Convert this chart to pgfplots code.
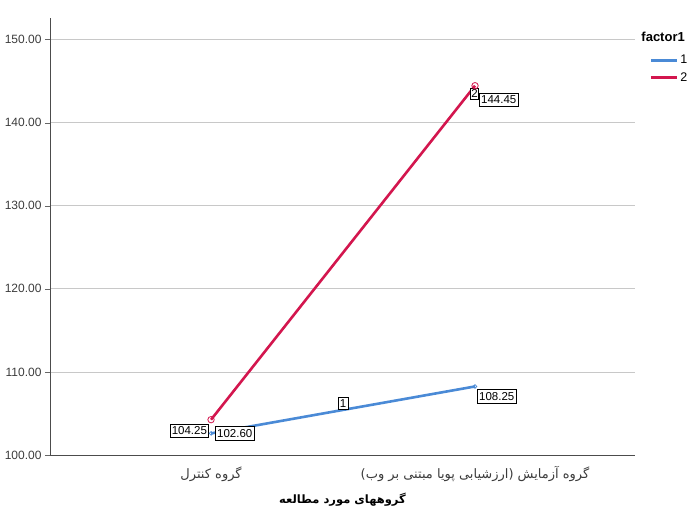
\documentclass[border=0pt]{standalone}
\usepackage{fontspec}
\setmainfont{Liberation Sans}
\newfontfamily\arabicfont[Script=Arabic]{DejaVu Sans}
\TeXXeTstate=1
\usepackage{pgfplots}
\pgfplotsset{compat=1.18}
\definecolor{ser1}{RGB}{74,138,214}
\definecolor{ser2}{RGB}{211,22,78}
\definecolor{gridc}{RGB}{200,200,200}
\definecolor{txt}{RGB}{60,60,60}
\tikzset{dlab/.style={draw=black, fill=white, text=black, inner xsep=1.8pt, inner ysep=2.8pt, font=\fontsize{11.5}{13}\selectfont, line width=0.6pt}}
\begin{document}
\begin{tikzpicture}[x=1pt,y=1pt]
\path[use as bounding box] (0,0) rectangle (697,516);
\begin{axis}[
  at={(50pt,61pt)}, anchor=south west,
  scale only axis, width=585pt, height=437pt,
  xmin=-0.61, xmax=1.606, ymin=100, ymax=152.6,
  axis lines=left, axis line style={-, draw=black!70, line width=0.8pt},
  xtick={0,1},
  xticklabels={{\arabicfont\beginR گروه کنترل\endR},{\arabicfont\beginR گروه آزمایش (ارزشیابی پویا مبتنی بر وب)\endR}},
  x tick label style={font=\fontsize{13}{15}\selectfont, text=txt, yshift=-3pt},
  major x tick style={draw=none},
  ytick={100,110,120,130,140,150},
  y tick label style={font=\fontsize{12}{14}\selectfont, text=txt},
  yticklabel style={/pgf/number format/fixed, /pgf/number format/fixed zerofill, /pgf/number format/precision=2, /pgf/number format/assume math mode=true},
  tick align=outside, major tick length=5pt, ytick style={draw=black!60},
  ymajorgrids, grid style={draw=gridc, line width=0.7pt},
  xlabel={\arabicfont\bfseries\beginR گروههای مورد مطالعه\endR},
  xlabel style={font=\fontsize{11.5}{13}\selectfont, yshift=-4pt},
  clip=false,
  legend style={at={(1.0225,0.922)}, anchor=north west, draw=none, fill=none,
    font=\fontsize{12.5}{14}\selectfont, row sep=3.5pt, inner sep=1pt},
  legend cell align=left,
  legend image code/.code={\draw[#1, line width=3pt] (0pt,0pt) -- (26pt,0pt);},
]
\addplot[color=ser1, line width=2.6pt, mark=o, mark size=1.8pt, mark options={line width=0.8pt}]
  coordinates {(0,102.60) (1,108.25)}
  node[pos=0, anchor=west, dlab, xshift=4pt] {102.60}
  node[pos=0.5, anchor=south, dlab, inner ysep=2pt, yshift=0pt] {1}
  node[pos=1, anchor=north west, dlab, xshift=2pt, yshift=-3pt] {108.25};
\addlegendentry{1}
\addplot[color=ser2, line width=2.6pt, mark=o, mark size=3.2pt, mark options={line width=0.8pt, fill=white}]
  coordinates {(0,104.25) (1,144.45)}
  node[pos=0, anchor=north east, dlab, xshift=-2pt, yshift=-4pt] {104.25}
  node[pos=1, anchor=north east, dlab, inner xsep=1pt, inner ysep=1.5pt, xshift=4pt, yshift=-2pt] {2}
  node[pos=1, anchor=north west, dlab, xshift=4pt, yshift=-7pt] {144.45};
\addlegendentry{2}
\node[anchor=west, font=\fontsize{13}{15}\selectfont\bfseries] at (rel axis cs:1.005,0.957) {factor1};
\end{axis}
\end{tikzpicture}
\end{document}
